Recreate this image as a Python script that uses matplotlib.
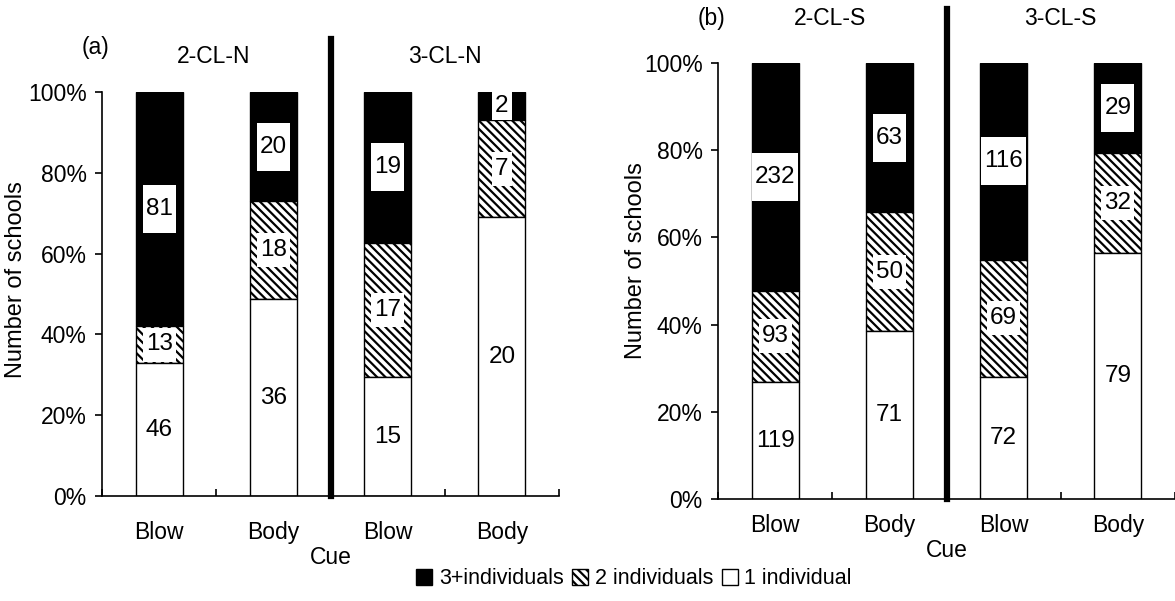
import matplotlib
matplotlib.use('Agg')

import numpy as np
import matplotlib.pyplot as plt

plt.rcParams['font.family'] = ['Liberation Sans', 'DejaVu Sans']
plt.rcParams['hatch.linewidth'] = 1.6

# data: counts per cue, stacked bottom -> top (1, 2, 3+ individuals)
cues = ['Blow', 'Body', 'Blow', 'Body']
groups_a = ['2-CL-N', '3-CL-N']
groups_b = ['2-CL-S', '3-CL-S']
one_a = [46, 36, 15, 20]
two_a = [13, 18, 17, 7]
three_a = [81, 20, 19, 2]
one_b = [119, 71, 72, 79]
two_b = [93, 50, 69, 32]
three_b = [232, 63, 116, 29]

ytick_vals = [0, 20, 40, 60, 80, 100]
ytick_labels = ['0%', '20%', '40%', '60%', '80%', '100%']
legend_labels = ['3+individuals', '2 individuals', '1 individual']

HATCH = '\\\\\\\\'
FS = 16.5

fig = plt.figure(figsize=(11.75, 6.01), dpi=100)
ax_a = fig.add_axes([102 / 1175, 105 / 601, 457 / 1175, 404 / 601])
ax_b = fig.add_axes([718 / 1175, 102 / 601, 457 / 1175, 436 / 601])


def draw_panel(ax, one, two, three, groups, tag, head_y, tag_dy, line_top, xpad,
               ylab_xy, cue_y):
    one = np.array(one, float)
    two = np.array(two, float)
    three = np.array(three, float)
    total = one + two + three
    p1 = one / total * 100
    p2 = two / total * 100
    p3 = three / total * 100
    x = np.arange(len(cues))
    w = 0.41

    b3 = ax.bar(x, p3, bottom=p1 + p2, width=w, color='black', edgecolor='black', lw=1)
    b2 = ax.bar(x, p2, bottom=p1, width=w, color='white', edgecolor='black', lw=1, hatch=HATCH)
    b1 = ax.bar(x, p1, width=w, color='white', edgecolor='black', lw=1)

    ax.set_xlim(-0.5, len(cues) - 0.5)
    ax.set_ylim(0, 100)

    # pixel -> data conversion for the white label boxes
    px_per_unit = ax.get_position().height * fig.bbox.height / 100
    px_per_cat = ax.get_position().width * fig.bbox.width / len(cues)

    segs = [(p1, np.zeros_like(p1), one, 0), (p2, p1, two, 34), (p3, p1 + p2, three, 48)]
    for ph, base, cnt, box_px in segs:
        for i in range(len(cues)):
            mid = base[i] + ph[i] / 2
            lab = str(int(cnt[i]))
            if box_px:
                bh = min(box_px / px_per_unit, ph[i])
                bw = (len(lab) * 12.5 + 8) / px_per_cat
                ax.bar(x[i], bh, bottom=mid - bh / 2, width=bw, color='white',
                       edgecolor='none', zorder=3)
            ax.text(x[i], mid, lab, ha='center', va='center', fontsize=FS + 1, zorder=4)

    # category divider
    ax.axvline(1.5, ymin=0, ymax=line_top, color='black', lw=4.5, clip_on=False, zorder=5)

    for s in ['top', 'right']:
        ax.spines[s].set_visible(False)
    for s in ['left', 'bottom']:
        ax.spines[s].set_linewidth(1.2)

    ax.set_yticks(ytick_vals, ytick_labels)
    ax.tick_params(axis='y', direction='out', length=5, width=1.2, pad=6, labelsize=FS)
    ax.set_xticks(np.arange(len(cues) + 1) - 0.5, [''] * (len(cues) + 1))
    ax.tick_params(axis='x', which='major', direction='in', length=5, width=1.2)
    ax.set_xticks(x, cues, minor=True)
    ax.tick_params(axis='x', which='minor', length=0, pad=xpad, labelsize=FS)

    ax.set_ylabel('Number of schools', fontsize=FS + 0.5)
    ax.yaxis.set_label_coords(*ylab_xy)
    ax.text(0.5, cue_y, 'Cue', transform=ax.transAxes, ha='center', va='center',
            fontsize=FS)

    ax.text(-0.015, head_y + tag_dy, tag, transform=ax.transAxes, ha='center',
            va='center', fontsize=FS)
    ax.text(0.245, head_y, groups[0], transform=ax.transAxes, ha='center',
            va='center', fontsize=FS)
    ax.text(0.75, head_y, groups[1], transform=ax.transAxes, ha='center',
            va='center', fontsize=FS)
    return b3, b2, b1


handles = draw_panel(ax_a, one_a, two_a, three_a, groups_a, '(a)', 1.087, 0.022, 1.131,
                     18, (-0.164, 0.535), -0.151)
draw_panel(ax_b, one_b, two_b, three_b, groups_b, '(b)', 1.103, 0.0, 1.124,
           11, (-0.155, 0.548), -0.117)

fig.legend(handles, legend_labels, loc='center', bbox_to_anchor=(634 / 1175, 1 - 579 / 601),
           ncol=3, frameon=False, fontsize=FS - 1, handlelength=0.75, handleheight=0.75,
           handletextpad=0.3, columnspacing=0.4, borderaxespad=0)

fig.savefig('out.png', dpi=100)
